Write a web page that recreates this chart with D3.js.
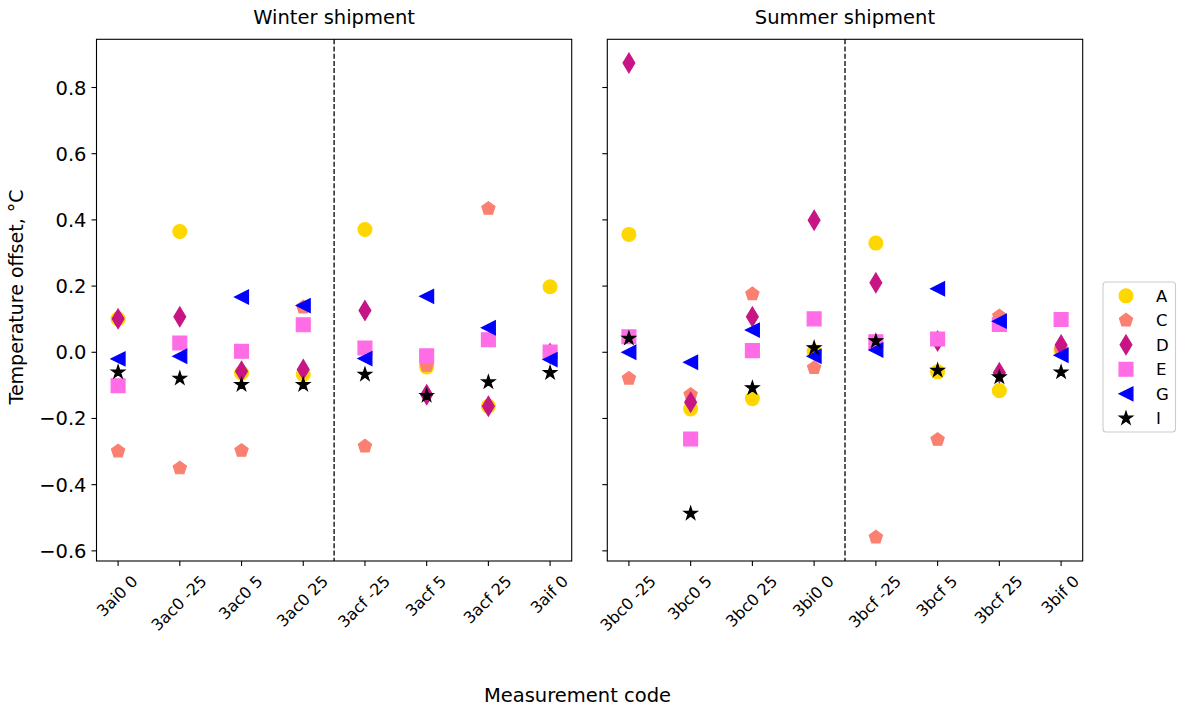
<!DOCTYPE html>
<html>
<head>
<meta charset="utf-8">
<script src="https://cdn.jsdelivr.net/npm/d3@7"></script>
<style>
  body { margin: 0; background: #fff; }
  svg { display: block; font-family: "DejaVu Sans", sans-serif; }
</style>
</head>
<body>
<svg id="chart" width="1177" height="710"></svg>
<script>
// Series (sensors) and their look
const seriesNames  = ["A", "C", "D", "E", "G", "I"];
const seriesColors = ["#ffd700", "#fa8072", "#c71585", "#ff6de6", "#0000ff", "#000000"];
const seriesShapes = ["circle", "pentagon", "thinDiamond", "square", "triangleLeft", "star"];

// Measurement codes per shipment
const winterCodes = ["3ai0 0", "3ac0 -25", "3ac0 5", "3ac0 25", "3acf -25", "3acf 5", "3acf 25", "3aif 0"];
const summerCodes = ["3bc0 -25", "3bc0 5", "3bc0 25", "3bi0 0", "3bcf -25", "3bcf 5", "3bcf 25", "3bif 0"];

// Temperature offsets (°C), winter shipment
const winterA = [0.101, 0.365, -0.062, -0.067, 0.371, -0.044, -0.163, 0.198];
const winterC = [-0.299, -0.350, -0.297, 0.136, -0.284, -0.040, 0.434, 0.000];
const winterD = [0.101, 0.107, -0.057, -0.052, 0.126, -0.128, -0.163, -0.004];
const winterE = [-0.101, 0.028, 0.003, 0.083, 0.013, -0.011, 0.038, 0.001];
const winterG = [-0.020, -0.012, 0.167, 0.141, -0.019, 0.169, 0.074, -0.022];
const winterI = [-0.060, -0.079, -0.098, -0.098, -0.067, -0.131, -0.090, -0.062];

// Temperature offsets (°C), summer shipment
const summerA = [0.356, -0.171, -0.140, 0.002, 0.330, -0.059, -0.116, 0.005];
const summerC = [-0.079, -0.128, 0.176, -0.047, -0.559, -0.264, 0.109, 0.008];
const summerD = [0.874, -0.151, 0.107, 0.399, 0.210, 0.034, -0.062, 0.022];
const summerE = [0.047, -0.262, 0.005, 0.101, 0.032, 0.040, 0.084, 0.099];
const summerG = [0.000, -0.030, 0.067, -0.012, 0.007, 0.192, 0.094, -0.009];
const summerI = [0.042, -0.487, -0.108, 0.013, 0.034, -0.055, -0.075, -0.060];

const yTickValues = [-0.6, -0.4, -0.2, 0.0, 0.2, 0.4, 0.6, 0.8];

const panels = [
  { title: "Winter shipment", codes: winterCodes,
    values: [winterA, winterC, winterD, winterE, winterG, winterI], x0: 96.5, x1: 571.7, yLabels: true },
  { title: "Summer shipment", codes: summerCodes,
    values: [summerA, summerC, summerD, summerE, summerG, summerI], x0: 607.3, x1: 1082.7, yLabels: false }
];

const svg = d3.select("#chart");
const plotTop = 39.3, plotBottom = 561;
const MS = 13.9;           // marker size
const tickLen = 5;

// shared y scale with 5% padding around the data extent
const allVals = panels.flatMap(p => p.values.flat());
const [vMin, vMax] = d3.extent(allVals);
const pad = 0.05 * (vMax - vMin);
const y = d3.scaleLinear().domain([vMin - pad, vMax + pad]).range([plotBottom, plotTop]);

function markerPath(shape, s) {
  const r = s / 2;
  const poly = pts => "M" + pts.map(p => p[0].toFixed(2) + "," + p[1].toFixed(2)).join("L") + "Z";
  switch (shape) {
    case "circle":
      return `M${r},0A${r},${r} 0 1,1 ${-r},0A${r},${r} 0 1,1 ${r},0Z`;
    case "pentagon":
      return poly(d3.range(5).map(k => {
        const a = (-90 + 72 * k) * Math.PI / 180;
        return [r * Math.cos(a), r * Math.sin(a)];
      }));
    case "thinDiamond": {
      const h = s * Math.SQRT1_2, w = 0.6 * h;
      return poly([[0, -h], [w, 0], [0, h], [-w, 0]]);
    }
    case "square":
      return poly([[-r, -r], [r, -r], [r, r], [-r, r]]);
    case "triangleLeft":
      return poly([[-r, 0], [r, -r], [r, r]]);
    case "star":
      return poly(d3.range(10).map(k => {
        const a = (-90 + 36 * k) * Math.PI / 180;
        const rr = k % 2 === 0 ? r : r * 0.381966;
        return [rr * Math.cos(a), rr * Math.sin(a)];
      }));
  }
}

panels.forEach(p => {
  const g = svg.append("g");
  const x = d3.scalePoint().domain(p.codes).range([p.x0, p.x1]).padding(0.35);

  // y ticks
  g.selectAll("line.ytick").data(yTickValues).join("line")
    .attr("x1", p.x0 - tickLen).attr("x2", p.x0)
    .attr("y1", d => y(d)).attr("y2", d => y(d))
    .attr("stroke", "#000").attr("stroke-width", 1.1);
  if (p.yLabels) {
    const fmt = d3.format(".1f");
    g.selectAll("text.ytick").data(yTickValues).join("text")
      .attr("x", p.x0 - tickLen - 5).attr("y", d => y(d))
      .attr("dy", "0.36em").attr("text-anchor", "end")
      .attr("font-size", 19.5).attr("fill", "#000")
      .text(d => fmt(d));
  }

  // x ticks
  g.selectAll("line.xtick").data(p.codes).join("line")
    .attr("x1", d => x(d)).attr("x2", d => x(d))
    .attr("y1", plotBottom).attr("y2", plotBottom + tickLen)
    .attr("stroke", "#000").attr("stroke-width", 1.1);

  // rotated category labels, box centred under each tick
  const fs = 16, capH = 0.73 * fs, labelTop = 574;
  p.codes.forEach(code => {
    const t = g.append("text")
      .attr("font-size", fs).attr("text-anchor", "middle").attr("dy", "0.36em")
      .attr("fill", "#000").text(code);
    const w = t.node().getComputedTextLength();
    const half = (w + capH) * Math.SQRT1_2 / 2;
    const cx = x(code) - 1, cy = labelTop + half;
    t.attr("transform", `translate(${cx},${cy}) rotate(-45)`);
  });

  // dashed separator between the "0" and "f" groups
  const xs = (x(p.codes[3]) + x(p.codes[4])) / 2;
  g.append("line")
    .attr("x1", xs).attr("x2", xs).attr("y1", plotTop).attr("y2", plotBottom)
    .attr("stroke", "#000").attr("stroke-width", 1.3)
    .attr("stroke-dasharray", "5,2.2");

  // markers, series drawn in legend order
  seriesNames.forEach((name, si) => {
    g.selectAll(null).data(p.values[si].map((v, i) => ({ code: p.codes[i], v }))).join("path")
      .attr("d", markerPath(seriesShapes[si], MS))
      .attr("transform", d => `translate(${x(d.code)},${y(d.v)})`)
      .attr("fill", seriesColors[si])
      .attr("stroke", seriesColors[si]).attr("stroke-width", 1.2)
      .attr("stroke-linejoin", "miter");
  });

  // frame
  g.append("rect")
    .attr("x", p.x0).attr("y", plotTop).attr("width", p.x1 - p.x0).attr("height", plotBottom - plotTop)
    .attr("fill", "none").attr("stroke", "#000").attr("stroke-width", 1.1);

  // panel title
  g.append("text")
    .attr("x", (p.x0 + p.x1) / 2).attr("y", 23.5)
    .attr("text-anchor", "middle").attr("font-size", 19.5).attr("fill", "#000")
    .text(p.title);
});

// axis titles
svg.append("text")
  .attr("x", 577.5).attr("y", 702)
  .attr("text-anchor", "middle").attr("font-size", 19.5).attr("fill", "#000")
  .text("Measurement code");
svg.append("text")
  .attr("transform", "translate(23,297) rotate(-90)")
  .attr("text-anchor", "middle").attr("font-size", 19).attr("fill", "#000")
  .text("Temperature offset, °C");

// legend
const lg = svg.append("g");
lg.append("rect")
  .attr("x", 1103).attr("y", 282).attr("width", 72.5).attr("height", 150)
  .attr("rx", 3).attr("ry", 3)
  .attr("fill", "#fff").attr("fill-opacity", 0.8)
  .attr("stroke", "#cccccc").attr("stroke-width", 1.1);
const rowY = d3.scaleLinear().domain([0, seriesNames.length - 1]).range([295.8, 418.3]);
seriesNames.forEach((name, si) => {
  lg.append("path")
    .attr("d", markerPath(seriesShapes[si], MS))
    .attr("transform", `translate(1126,${rowY(si)})`)
    .attr("fill", seriesColors[si]).attr("stroke", seriesColors[si]).attr("stroke-width", 1.2);
  lg.append("text")
    .attr("x", 1156).attr("y", rowY(si)).attr("dy", "0.36em")
    .attr("font-size", 16.5).attr("fill", "#000")
    .text(name);
});
</script>
</body>
</html>
